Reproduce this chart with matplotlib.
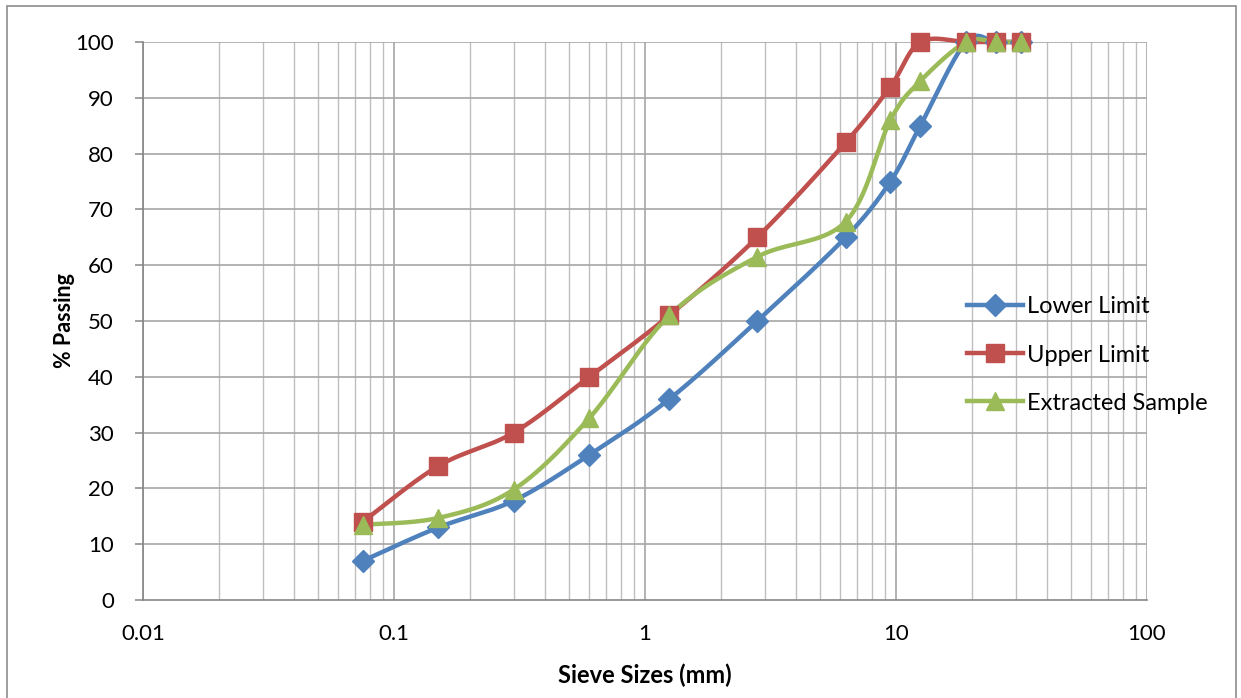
import numpy as np
import matplotlib
matplotlib.use('Agg')
import matplotlib.pyplot as plt
from matplotlib.ticker import FixedLocator, NullFormatter, FuncFormatter
from matplotlib.patches import Rectangle

plt.rcParams['font.family'] = ['Lato', 'DejaVu Sans']

sieve_mm = [0.075, 0.15, 0.3, 0.6, 1.25, 2.8, 6.3, 9.5, 12.5, 19, 25, 31.5]
lower_limit = [7, 13, 17.8, 26, 36, 50, 65, 75, 85, 100, 100, 100]
upper_limit = [14, 24, 30, 40, 51, 65, 82, 92, 100, 100, 100, 100]
extracted = [13.5, 14.7, 19.8, 32.6, 51, 61.5, 67.8, 86, 93, 100, 100, 100]

series = [
    ('Lower Limit', lower_limit, '#4F81BD', 'D', 11),
    ('Upper Limit', upper_limit, '#C0504D', 's', 12.5),
    ('Extracted Sample', extracted, '#9BBB59', '^', 13.5),
]

# pixel scale of one decade and of one % on the plot, used for Excel-like smoothing
PX_DECADE = 251.0
PX_PCT = 5.58


def smooth(xs, ys, n=40):
    u = np.log10(np.asarray(xs, float)) * PX_DECADE
    v = np.asarray(ys, float) * PX_PCT
    pts = np.column_stack([u, v])
    out = []
    m = len(pts)
    for i in range(m - 1):
        p0 = pts[i - 1] if i > 0 else pts[i]
        p1 = pts[i]
        p2 = pts[i + 1]
        p3 = pts[i + 2] if i + 2 < m else pts[i + 1]
        c1 = p1 + (p2 - p0) / 6.0
        c2 = p2 - (p3 - p1) / 6.0
        t = np.linspace(0, 1, n)[:, None]
        seg = ((1 - t) ** 3) * p1 + 3 * ((1 - t) ** 2) * t * c1 + 3 * (1 - t) * t ** 2 * c2 + t ** 3 * p2
        out.append(seg if i == 0 else seg[1:])
    c = np.vstack(out)
    return 10 ** (c[:, 0] / PX_DECADE), c[:, 1] / PX_PCT


fig = plt.figure(figsize=(12.41, 6.98), dpi=100)
ax = fig.add_axes([143 / 1241, 1 - 600 / 698, (1147 - 143) / 1241, (600 - 42) / 698])

fig.patches.append(Rectangle((7 / 1241, -0.01), (1236 - 7) / 1241, 1 - 6 / 698 + 0.01,
                             transform=fig.transFigure, fill=False, edgecolor='#8C8C8C', lw=1.2))

ax.set_xscale('log')
ax.set_xlim(0.01, 100)
ax.set_ylim(0, 100)

major_x = [0.01, 0.1, 1, 10, 100]
minor_x = [m * d for d in [0.01, 0.1, 1, 10] for m in range(2, 10)]
ax.xaxis.set_major_locator(FixedLocator(major_x))
ax.xaxis.set_minor_locator(FixedLocator(minor_x))
ax.xaxis.set_major_formatter(FuncFormatter(lambda v, p: f'{v:g}'))
ax.xaxis.set_minor_formatter(NullFormatter())
ax.set_yticks(range(0, 101, 10))

for v in major_x:
    ax.axvline(v, color='#A6A6A6', lw=1.2, zorder=0)
for v in minor_x:
    ax.axvline(v, color='#BFBFBF', lw=1.0, zorder=0)
for v in range(10, 101, 10):
    ax.axhline(v, color='#A6A6A6', lw=1.2, zorder=0)

for s in ['top', 'right']:
    ax.spines[s].set_visible(False)
for s in ['left', 'bottom']:
    ax.spines[s].set_color('#868686')
    ax.spines[s].set_linewidth(1.2)

ax.tick_params(axis='x', which='both', length=0, pad=17.5, labelsize=16)
ax.tick_params(axis='y', which='major', length=6, width=1.1, color='#868686', pad=15, labelsize=16)

for name, vals, color, marker, ms in series:
    sx, sy = smooth(sieve_mm, vals)
    ax.plot(sx, sy, color=color, lw=3.2, clip_on=False, zorder=3)
    ax.plot(sieve_mm, vals, linestyle='none', marker=marker, markersize=ms, color=color,
            clip_on=False, zorder=4)
    ax.plot([], [], color=color, lw=3.2, marker=marker, markersize=ms, label=name)

ax.set_xlabel('Sieve Sizes (mm)', fontsize=17, fontweight='bold', labelpad=14)
ax.set_ylabel('% Passing', fontsize=15.5, fontweight='bold', labelpad=0.5)

ax.legend(loc='center left', bbox_to_anchor=(946 / 1241, 1 - 355 / 698), bbox_transform=fig.transFigure,
          frameon=False, fontsize=17, handlelength=2.35, handletextpad=0.2, labelspacing=1.15)

fig.savefig('out.png', dpi=100)
